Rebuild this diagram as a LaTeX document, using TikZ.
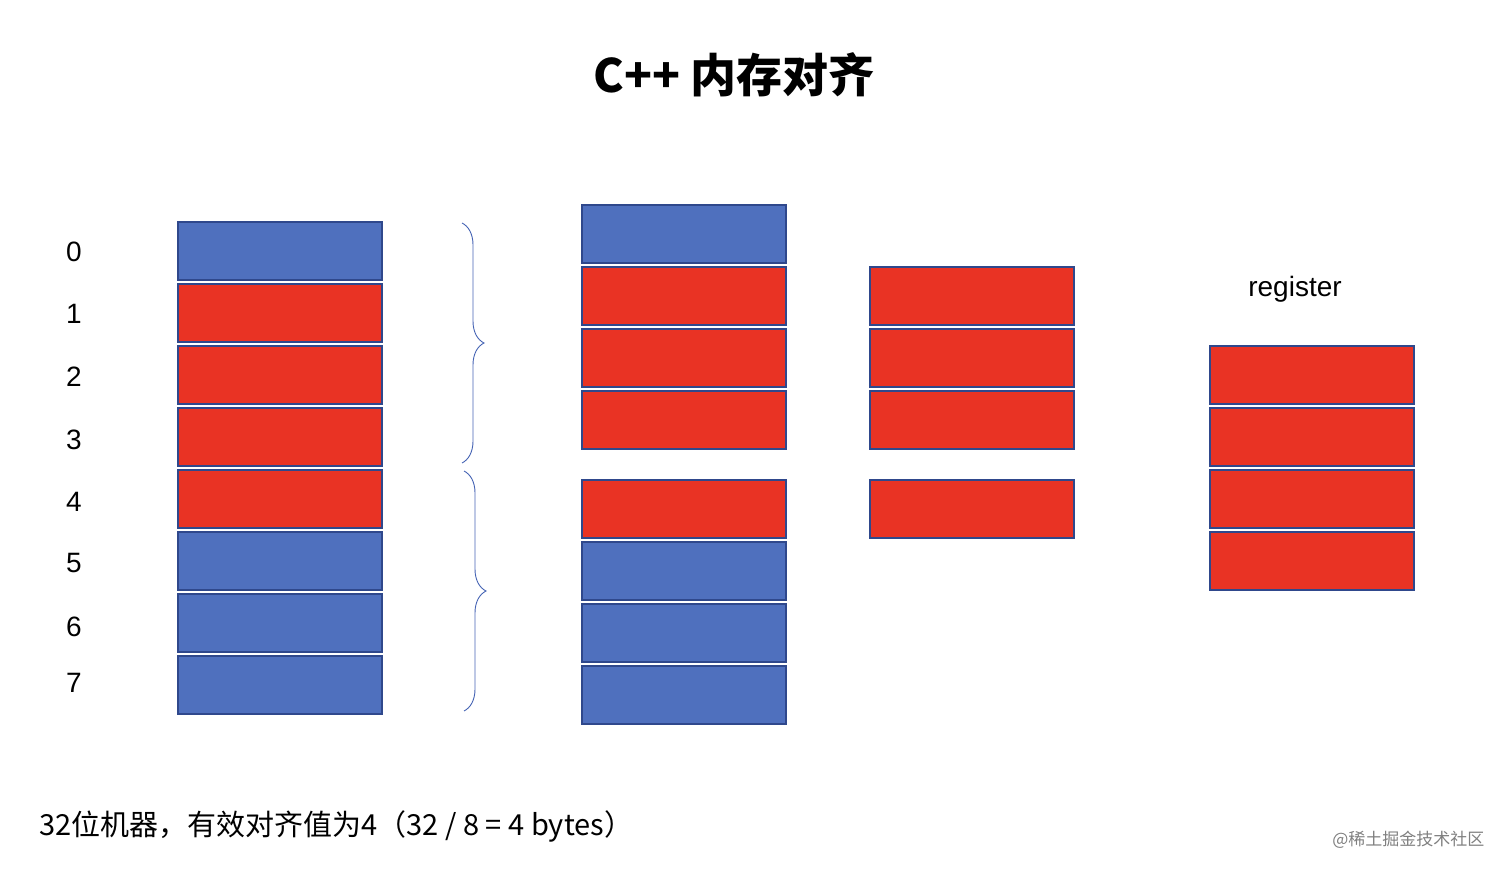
\documentclass[tikz,border=0pt]{standalone}
\usepackage{fontspec}
\setmainfont{Liberation Sans}
\newfontfamily\cjk{Noto Sans CJK SC}
\usetikzlibrary{
  positioning,
  calc,
  decorations.pathreplacing}
\definecolor{bytecolor}{RGB}{79,112,190}
\definecolor{padcolor}{RGB}{233,51,36}
\definecolor{edgecolor}{RGB}{47,72,140}
\definecolor{bracecolor}{RGB}{70,100,180}
\tikzset{
  %% cell : one byte of memory
  cell/.style={
    rectangle,
    draw=edgecolor,
    line width=1.2pt,
    minimum width=204pt,
    minimum height=58pt,
    inner sep=0pt
  },
  %% blue / red filling
  blu/.style={cell, fill=bytecolor},
  rd/.style={cell, fill=padcolor},
  %% addr : address label
  addr/.style={font=\fontsize{28}{30}\selectfont},
  %% group : brace around four bytes
  group/.style={bracecolor, line width=0.9pt,
    decorate, decoration={brace, amplitude=22pt, aspect=0.5}}
}
\begin{document}
\begin{tikzpicture}
  [x=1pt,
  y=-1pt]
  \useasboundingbox (0,0) rectangle (1510,874);

  %% Title
  \node (title) at (734,75) {\cjk\bfseries\fontsize{46}{50}\selectfont C++ 内存对齐};

  %% Memory column
  \foreach \i/\s/\y/\a in {0/blu/251/252, 1/rd/313/314, 2/rd/375/377, 3/rd/437/440,
                          4/rd/499/502, 5/blu/561/563, 6/blu/623/627, 7/blu/685/683} {
    \node (mem\i) [\s] at (280,\y) {};
    \node (addr\i) [addr] at (74,\a) {\i};
  }

  %% Braces
  \draw [group] (462,223) -- (462,463);
  \draw [group] (464,471) -- (464,711);

  %% Two reads
  \foreach \i/\s/\y in {0/blu/234, 1/rd/296, 2/rd/358, 3/rd/420,
                        4/rd/509, 5/blu/571, 6/blu/633, 7/blu/695} {
    \node (rd\i) [\s] at (684,\y) {};
  }

  %% Kept bytes
  \foreach \i/\y in {1/296, 2/358, 3/420, 4/509} {
    \node (keep\i) [rd] at (972,\y) {};
  }

  %% Register
  \node (reglabel) at (1295,289) {\fontsize{28}{30}\selectfont register};
  \foreach \i/\y in {1/375, 2/437, 3/499, 4/561} {
    \node (reg\i) [rd] at (1312,\y) {};
  }

  %% Note
  \node (note) [anchor=west] at (36,826)
    {\cjk\fontsize{29}{32}\selectfont 32位机器，有效对齐值为4（32 / 8 = 4 bytes）};
  \node (mark) [anchor=east, gray] at (1488,840)
    {\cjk\fontsize{17}{20}\selectfont @稀土掘金技术社区};
\end{tikzpicture}
\end{document}
